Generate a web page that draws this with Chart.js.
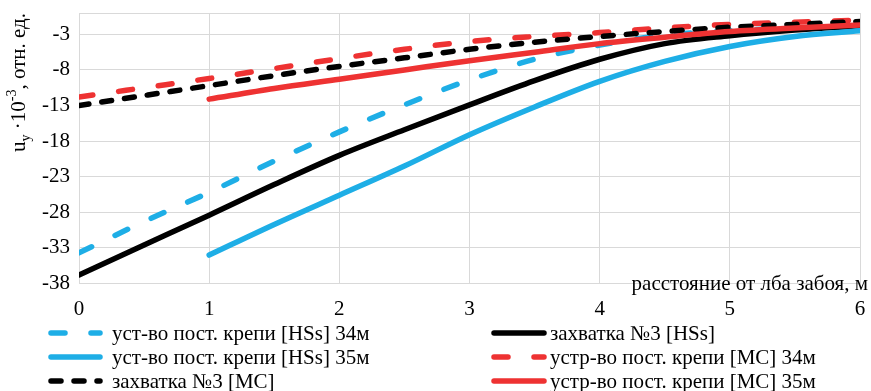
<!DOCTYPE html>
<html>
<head>
<meta charset="utf-8">
<script src="https://cdn.jsdelivr.net/npm/chart.js@4"></script>
<style>
  html, body { margin: 0; padding: 0; background: #fff; overflow: hidden; }
  canvas { display: block; }
</style>
</head>
<body>
<canvas id="chart" width="871" height="391"></canvas>
<script>
/* Vertical displacement u_y vs distance from the face: six series,
 * HSs vs MC models, 34 m / 35 m support install plus the "захватка №3" runs. */
const X_VALUES = [0, 0.5, 1, 1.5, 2, 2.5, 3, 3.5, 4, 4.5, 5, 5.5, 6];
const X_TICKS = [0, 1, 2, 3, 4, 5, 6];
const Y_TICKS = [-38, -33, -28, -23, -18, -13, -8, -3];
const Y_MIN = -38, Y_MAX = 0;

const HSS_34 = [-33.7, -29.3, -25.2, -20.8, -16.7, -12.9, -9.4, -6.5, -4.5, -3.1, -2.5, -2.1, -1.9];
const HSS_GRIP = [-36.8, -32.6, -28.4, -24.1, -20.0, -16.4, -12.9, -9.5, -6.5, -4.3, -3.2, -2.4, -1.8];
const HSS_35 = [null, null, -34.0, -29.7, -25.6, -21.5, -17.1, -13.2, -9.6, -6.8, -4.7, -3.3, -2.5];
const MC_34 = [-11.8, -10.5, -9.2, -7.8, -6.4, -5.1, -4.0, -3.3, -2.75, -2.1, -1.6, -1.3, -1.0];
const MC_GRIP = [-13.0, -11.6, -10.2, -8.8, -7.5, -6.3, -5.1, -4.1, -3.3, -2.6, -2.0, -1.6, -1.2];
const MC_35 = [null, null, -12.1, -10.6, -9.3, -8.0, -6.7, -5.5, -4.3, -3.4, -2.6, -2.1, -1.7];

const SERIES_NAMES = [
  "уст-во пост. крепи [HSs] 34м",
  "захватка №3 [HSs]",
  "уст-во пост. крепи [HSs] 35м",
  "устр-во пост. крепи [MC] 34м",
  "захватка №3 [MC]",
  "устр-во пост. крепи [MC] 35м",
];
const X_TITLE = "расстояние от лба забоя, м";

const BLUE = "#1eaee6", RED = "#ee3232", BLACK = "#000000";
const LONG_DASH = [14, 26], SHORT_DASH = [10, 13];
const FONT = '"Liberation Serif", serif';
const FS = 21;

function pts(vals) {
  return X_VALUES.map((x, i) => ({ x: x, y: vals[i] }));
}

const styles = [
  { color: BLUE, dash: LONG_DASH, data: HSS_34 },
  { color: BLACK, dash: [], data: HSS_GRIP },
  { color: BLUE, dash: [], data: HSS_35 },
  { color: RED, dash: LONG_DASH, data: MC_34 },
  { color: BLACK, dash: SHORT_DASH, data: MC_GRIP },
  { color: RED, dash: [], data: MC_35 },
];

const datasets = styles.map((s, i) => ({
  label: SERIES_NAMES[i],
  data: pts(s.data),
  borderColor: s.color,
  backgroundColor: s.color,
  borderWidth: 5.5,
  borderDash: s.dash,
  borderCapStyle: "round",
  borderJoinStyle: "round",
  pointRadius: 0,
  cubicInterpolationMode: "monotone",
  spanGaps: false,
  order: styles.length - i, // later series sit on top, like the original
}));

// x-axis title sits inside the plot at bottom-right; y title needs sub/superscript
const titles = {
  id: "titles",
  afterDraw(chart) {
    const ctx = chart.ctx;
    ctx.save();
    ctx.fillStyle = "#000";
    ctx.font = FS + "px " + FONT;
    ctx.textAlign = "right";
    ctx.textBaseline = "alphabetic";
    ctx.fillText(X_TITLE, 868, 290);

    ctx.translate(25, 152);
    ctx.rotate(-Math.PI / 2);
    ctx.textAlign = "left";
    const parts = [
      ["u", FS, 0], ["y", 14, 5], [" ·10", FS, 0], ["-3", 14, -9], [", отн. ед.", FS, 0],
    ];
    let x = 0;
    parts.forEach(([t, sz, dy]) => {
      ctx.font = sz + "px " + FONT;
      ctx.fillText(t, x, dy);
      x += ctx.measureText(t).width;
    });
    ctx.restore();
  },
};

// two-column legend under the plot, filled row by row
const legend = {
  id: "twoColLegend",
  afterDraw(chart) {
    const ctx = chart.ctx;
    const cols = [{ x0: 51, x1: 100, tx: 112 }, { x0: 494, x1: 544, tx: 550 }];
    const rows = [333, 357, 381];
    ctx.save();
    datasets.forEach((ds, i) => {
      const c = cols[i % 2], y = rows[Math.floor(i / 2)];
      ctx.strokeStyle = ds.borderColor;
      ctx.lineWidth = 5.5;
      ctx.lineCap = "round";
      ctx.setLineDash(ds.borderDash);
      ctx.beginPath();
      ctx.moveTo(c.x0, y);
      ctx.lineTo(c.x1, y);
      ctx.stroke();
      ctx.setLineDash([]);
      ctx.fillStyle = "#000";
      ctx.font = FS + "px " + FONT;
      ctx.textAlign = "left";
      ctx.textBaseline = "middle";
      ctx.fillText(ds.label, c.tx, y + 1);
    });
    ctx.restore();
  },
};

new Chart(document.getElementById("chart"), {
  type: "line",
  data: { datasets: datasets },
  plugins: [titles, legend],
  options: {
    responsive: false,
    animation: false,
    devicePixelRatio: 1,
    layout: { padding: { top: 13, right: 11, left: 0, bottom: 0 } },
    plugins: { legend: { display: false }, tooltip: { enabled: false } },
    scales: {
      x: {
        type: "linear",
        min: X_TICKS[0],
        max: X_TICKS[X_TICKS.length - 1],
        afterBuildTicks: (s) => { s.ticks = X_TICKS.map((v) => ({ value: v })); },
        afterFit: (s) => { s.height = 107.5; s.paddingLeft = 0; s.paddingRight = 0; },
        grid: { color: "#d9d9d9", lineWidth: 1, drawTicks: false },
        border: { display: false },
        ticks: { color: "#000", padding: 13, font: { family: FONT, size: FS }, maxRotation: 0 },
      },
      y: {
        min: Y_MIN,
        max: Y_MAX,
        afterBuildTicks: (s) => { s.ticks = Y_TICKS.concat([Y_MAX]).map((v) => ({ value: v })); },
        afterFit: (s) => { s.width = 79; s.paddingTop = 0; s.paddingBottom = 0; },
        grid: { color: "#d9d9d9", lineWidth: 1, drawTicks: false },
        border: { display: false },
        ticks: {
          color: "#000", padding: 9, font: { family: FONT, size: FS },
          callback: (v) => (Y_TICKS.includes(v) ? String(v) : ""),
        },
      },
    },
  },
});
</script>
</body>
</html>
